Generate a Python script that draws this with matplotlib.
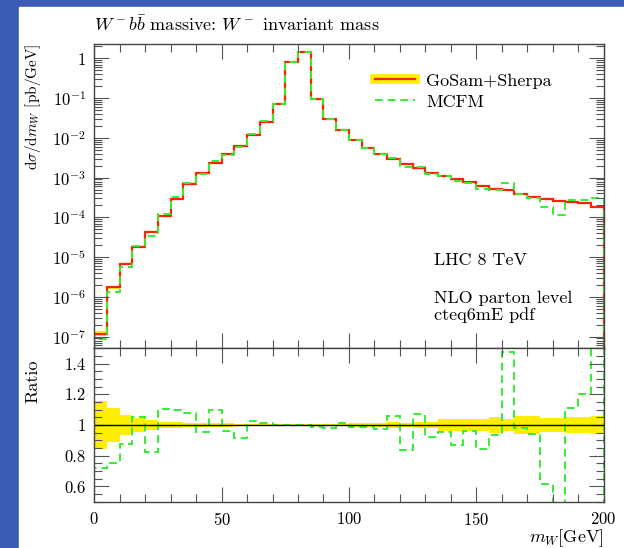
import numpy as np
import matplotlib
matplotlib.use("Agg")
import matplotlib.pyplot as plt
from matplotlib.lines import Line2D
from matplotlib.ticker import MultipleLocator, LogLocator, FuncFormatter, NullFormatter

plt.rcParams['font.family'] = 'serif'
plt.rcParams['font.serif'] = ['cmr10', 'DejaVu Serif']
plt.rcParams['mathtext.fontset'] = 'cm'
plt.rcParams['axes.formatter.use_mathtext'] = True
plt.rcParams['font.size'] = 12

# bin edges: 5 GeV bins from 0 to 200
edges = np.arange(0, 205, 5)

# GoSam+Sherpa dsigma/dm_W [pb/GeV]
gosam = [1.2e-7, 1.73e-6, 6.6e-6, 1.85e-5, 4.2e-5, 1.1e-4, 2.9e-4, 6.9e-4,
         1.29e-3, 2.4e-3, 3.96e-3, 6.4e-3, 1.2e-2, 2.56e-2, 7.1e-2, 0.79,
         1.41, 0.095, 0.030, 0.0158, 8.9e-3, 5.5e-3, 3.96e-3, 2.9e-3,
         2.2e-3, 1.73e-3, 1.34e-3, 1.12e-3, 9.3e-4, 7.8e-4, 6.3e-4, 5.1e-4,
         4.9e-4, 3.9e-4, 3.3e-4, 2.9e-4, 2.6e-4, 2.5e-4, 2.3e-4, 1.87e-4]

# MCFM / GoSam ratio per bin
ratio = [0.72, 0.75, 0.874, 1.052, 0.823, 1.107, 1.10, 1.08,
         0.957, 1.10, 0.96, 0.916, 1.027, 1.012, 0.998, 1.0,
         1.0, 0.99, 0.983, 1.01, 0.99, 0.99, 0.976, 1.058,
         0.84, 1.07, 0.922, 0.957, 0.868, 0.96, 0.842, 0.933,
         1.476, 0.98, 0.944, 0.618, 0.45, 1.113, 1.2, 1.6]

# relative uncertainty of GoSam+Sherpa (yellow band)
band = [0.155, 0.11, 0.065, 0.045, 0.033, 0.022, 0.018, 0.015,
        0.013, 0.012, 0.010, 0.009, 0.008, 0.006, 0.006, 0.006,
        0.006, 0.006, 0.006, 0.008, 0.010, 0.012, 0.012, 0.020,
        0.015, 0.020, 0.022, 0.037, 0.037, 0.037, 0.037, 0.054,
        0.037, 0.056, 0.056, 0.046, 0.046, 0.054, 0.054, 0.056]

gosam = np.array(gosam)
ratio = np.array(ratio)
band = np.array(band)
mcfm = gosam * ratio

RED = '#ff2200'
YEL = '#ffee00'
GRN = '#33ee33'
SPINE = '#444444'
DASH = (0, (4, 2.5))

W, H = 624, 548
fig = plt.figure(figsize=(W / 100, H / 100), dpi=100)
fig.patch.set_facecolor('#3b5bb5')
fig.add_artist(plt.Rectangle((19 / W, 0), 1 - 19 / W, 1 - 7 / H,
                             transform=fig.transFigure, color='white', zorder=-1))

left, right = 94.3 / W, 603.5 / W
ax = fig.add_axes([left, 1 - 348.3 / H, right - left, (348.3 - 44) / H])
axr = fig.add_axes([left, 1 - 501.7 / H, right - left, (501.7 - 348.3) / H], sharex=ax)

# main panel
ax.stairs(gosam * (1 + band), edges, baseline=gosam * (1 - band), fill=True,
          color=YEL, lw=0)
ax.stairs(gosam, edges, color=RED, lw=1.6)
ax.stairs(mcfm, edges, color=GRN, lw=1.4, linestyle=DASH)
ax.set_yscale('log')
ax.set_ylim(5.1e-8, 2.3)
ax.set_xlim(0, 200)

# ratio panel
axr.stairs(1 + band, edges, baseline=1 - band, fill=True, color=YEL, lw=0)
axr.axhline(1, color='black', lw=1)
axr.stairs(ratio, edges, color=GRN, lw=1.4, linestyle=DASH)
axr.set_ylim(0.5, 1.5)

for a in (ax, axr):
    for s in a.spines.values():
        s.set_color(SPINE)
        s.set_linewidth(1.0)
    a.tick_params(which='both', direction='in', top=True, right=True,
                  color='#555555', width=0.8, labelsize=12)
    a.tick_params(which='major', length=11)
    a.tick_params(which='minor', length=5.5)
    a.xaxis.set_major_locator(MultipleLocator(50))
    a.xaxis.set_minor_locator(MultipleLocator(10))

ax.tick_params(labelbottom=False, pad=6)
ax.yaxis.set_major_locator(LogLocator(base=10, numticks=20))
ax.yaxis.set_minor_locator(LogLocator(base=10, subs=np.arange(2, 10), numticks=20))
ax.yaxis.set_minor_formatter(NullFormatter())


def logfmt(v, pos):
    e = int(round(np.log10(v)))
    return '1' if e == 0 else r'$10^{%d}$' % e


ax.yaxis.set_major_formatter(FuncFormatter(logfmt))

axr.yaxis.set_major_locator(MultipleLocator(0.2))
axr.yaxis.set_minor_locator(MultipleLocator(0.05))
axr.yaxis.set_major_formatter(FuncFormatter(lambda v, p: '%g' % round(v, 2)))
axr.tick_params(axis='y', pad=6)
axr.tick_params(axis='x', pad=7)

# legend
h_gosam = (Line2D([], [], color=YEL, lw=7), Line2D([], [], color=RED, lw=1.6))
h_mcfm = Line2D([], [], color=GRN, lw=1.4, linestyle=DASH)
ax.legend([h_gosam, h_mcfm], ['GoSam+Sherpa', 'MCFM'], loc='upper left',
          bbox_to_anchor=((375 - 94.3) / 509.2, (348.3 - 73) / 304.3),
          frameon=False, handlelength=2.2, handletextpad=0.65,
          labelspacing=0.3, borderpad=0, borderaxespad=0, fontsize=13)

tx = (434 - 94.3) / 509.2
ax.text(tx, (348.3 - 265) / 304.3, 'LHC 8 TeV', transform=ax.transAxes,
        va='baseline', fontsize=13)
ax.text(tx, (348.3 - 303) / 304.3, 'NLO parton level', transform=ax.transAxes,
        va='baseline', fontsize=13)
ax.text(tx, (348.3 - 320) / 304.3, 'cteq6mE pdf', transform=ax.transAxes,
        va='baseline', fontsize=13)

fig.text(94 / W, 1 - 31 / H, r'$W^-b\bar{b}$ massive: $W^-$ invariant mass',
         ha='left', va='baseline', fontsize=13)
fig.text(33 / W, 1 - 44 / H, r'$\mathrm{d}\sigma/\mathrm{d}m_W$ [pb/GeV]',
         rotation=90, ha='center', va='top', fontsize=11)
fig.text(33 / W, 1 - 381 / H, 'Ratio', rotation=90, ha='center', va='center',
         fontsize=13)
fig.text(603.5 / W, 1 - 542 / H, r'$m_W$[GeV]', ha='right', va='baseline',
         fontsize=13)

fig.savefig('out.png', dpi=100, facecolor=fig.get_facecolor())
